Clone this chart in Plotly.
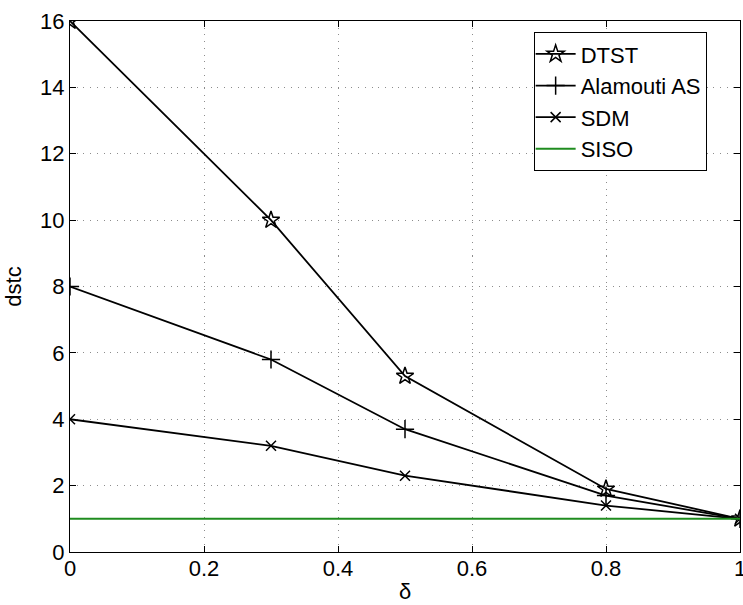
import plotly.graph_objects as go

delta = [0, 0.3, 0.5, 0.8, 1]
dtst = [16, 10, 5.3, 1.9, 1]
alamouti = [8, 5.8, 3.7, 1.7, 1]
sdm = [4, 3.2, 2.3, 1.4, 1]
siso_x = [0, 1]
siso = [1, 1]

fig = go.Figure()
fig.add_trace(go.Scatter(x=delta, y=dtst, mode="lines+markers", name="DTST",
                         line=dict(color="black", width=1.8),
                         marker=dict(symbol="star-open", size=13, color="black", line=dict(width=1.5))))
fig.add_trace(go.Scatter(x=delta, y=alamouti, mode="lines+markers", name="Alamouti AS",
                         line=dict(color="black", width=1.8),
                         marker=dict(symbol="cross-thin", size=13, color="black", line=dict(width=1.5, color="black"))))
fig.add_trace(go.Scatter(x=delta, y=sdm, mode="lines+markers", name="SDM",
                         line=dict(color="black", width=1.8),
                         marker=dict(symbol="x-thin", size=10, color="black", line=dict(width=1.5, color="black"))))
fig.add_trace(go.Scatter(x=siso_x, y=siso, mode="lines", name="SISO",
                         line=dict(color="#1f8c1f", width=2)))

axis_common = dict(showline=True, linecolor="black", linewidth=1.2, mirror="ticks",
                   ticks="inside", ticklen=6, tickcolor="black", tickwidth=1,
                   showgrid=True, gridcolor="#8c8c8c", griddash="1px,5.7px", gridwidth=1,
                   zeroline=False, tickfont=dict(size=22, color="black"),
                   ticklabeloverflow="allow")

fig.update_layout(
    width=743, height=605,
    margin=dict(l=70, r=3, t=21, b=53, autoexpand=False),
    plot_bgcolor="white", paper_bgcolor="white",
    font=dict(family="Liberation Sans, Arial, sans-serif", color="black", size=22),
    xaxis=dict(range=[0, 1], dtick=0.2, title=dict(text="δ", standoff=4, font=dict(size=22)),
               ticklabelstandoff=-4, **axis_common),
    yaxis=dict(range=[0, 16], dtick=2, title=dict(text="dstc", standoff=12, font=dict(size=22)), **axis_common),
    legend=dict(x=0.692, y=0.979, xanchor="left", yanchor="top",
                bordercolor="black", borderwidth=1, bgcolor="white",
                font=dict(size=22), tracegroupgap=0, itemwidth=40,
                indentation=-4),
    showlegend=True,
)

fig.write_html("out.html", config={"displayModeBar": False},
               post_script="document.body.style.margin='0';document.body.style.padding='0';")
